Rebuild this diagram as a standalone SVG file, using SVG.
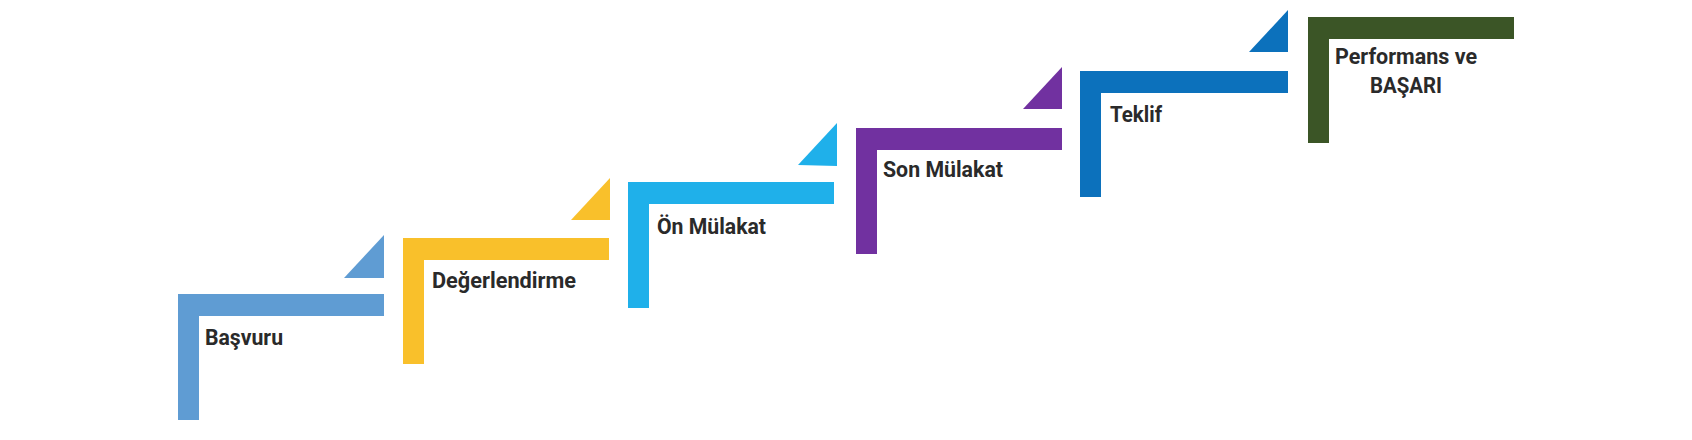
<svg xmlns="http://www.w3.org/2000/svg" width="1692" height="440" viewBox="0 0 1692 440">
<style>
.lbl{font-family:Roboto,"Open Sans","Liberation Sans",sans-serif;font-weight:700;font-size:22px;fill:#2a2a2a}
.s1{fill:#5f9cd3}.s2{fill:#f9c02b}.s3{fill:#1fb0ea}.s4{fill:#7131a0}.s5{fill:#0c71bc}.s6{fill:#3b5526}
</style>
<rect width="1692" height="440" fill="#ffffff"/>
<g id="step-basvuru" class="s1">
<path d="M178 294H384V316H199V420H178Z"/>
<path d="M344 278L384 235V278Z"/>
<text class="lbl" x="205" y="345" textLength="78" lengthAdjust="spacingAndGlyphs">Başvuru</text>
</g>
<g id="step-degerlendirme" class="s2">
<path d="M403 238H609V260H424V364H403Z"/>
<path d="M571 220L610 178V220Z"/>
<text class="lbl" x="432" y="288" textLength="144" lengthAdjust="spacingAndGlyphs">Değerlendirme</text>
</g>
<g id="step-on-mulakat" class="s3">
<path d="M628 182H834V204H649V308H628Z"/>
<path d="M798 165L837 123V166Z"/>
<text class="lbl" x="657" y="234" textLength="109" lengthAdjust="spacingAndGlyphs">Ön Mülakat</text>
</g>
<g id="step-son-mulakat" class="s4">
<path d="M856 128H1062V150H877V254H856Z"/>
<path d="M1023 109L1062 67V109Z"/>
<text class="lbl" x="883" y="177" textLength="120" lengthAdjust="spacingAndGlyphs">Son Mülakat</text>
</g>
<g id="step-teklif" class="s5">
<path d="M1080 71H1288V93H1101V197H1080Z"/>
<path d="M1249 52L1288 10V52Z"/>
<text class="lbl" x="1110" y="122" textLength="52" lengthAdjust="spacingAndGlyphs">Teklif</text>
</g>
<g id="step-performans" class="s6">
<path d="M1308 17H1514V39H1329V143H1308Z"/>
<text class="lbl" x="1335" y="64" textLength="142" lengthAdjust="spacingAndGlyphs">Performans ve</text>
<text class="lbl" x="1370" y="93" textLength="72" lengthAdjust="spacingAndGlyphs">BAŞARI</text>
</g>
<g id="connectors"></g>
</svg>
